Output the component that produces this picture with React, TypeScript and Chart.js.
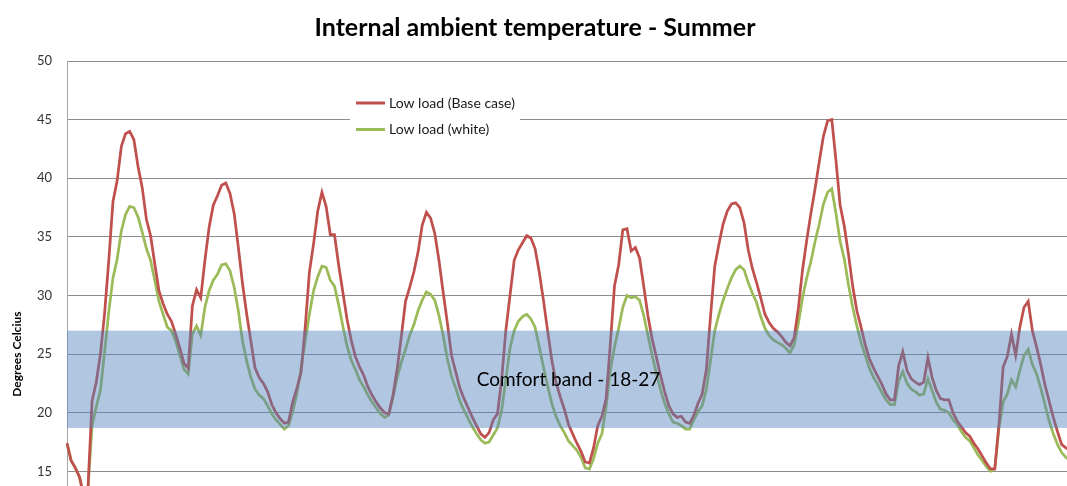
import React, { useEffect, useRef } from "react";
import { Chart, registerables } from "chart.js";

Chart.register(...registerables);

// Hourly time steps (categories)
const hours: string[] = Array.from({ length: 241 }, (_, i) => String(i));

// Series values (degrees Celsius)
const baseCase: number[] = [
  17.4, 15.9, 15.3, 14.5, 12.9, 13.4, 21.0, 22.6, 25.0, 28.5,
  33.0, 38.0, 39.8, 42.7, 43.8, 44.0, 43.3, 41.0, 39.2, 36.5,
  35.1, 32.7, 30.4, 29.3, 28.4, 27.8, 26.7, 25.5, 24.2, 23.8,
  29.1, 30.5, 29.8, 33.0, 35.8, 37.7, 38.5, 39.4, 39.6, 38.7,
  37.0, 34.1, 31.0, 28.4, 26.1, 23.8, 23.0, 22.5, 21.8, 20.7,
  20.0, 19.5, 19.1, 19.2, 20.9, 22.1, 23.4, 27.3, 32.0, 34.4,
  37.2, 38.8, 37.6, 35.2, 35.2, 32.6, 30.3, 28.0, 26.2, 24.8,
  23.9, 23.2, 22.2, 21.5, 20.9, 20.4, 20.0, 19.9, 21.5, 23.7,
  26.5, 29.5, 30.7, 32.0, 33.7, 36.0, 37.1, 36.6, 35.3, 33.0,
  30.3, 27.7, 24.9, 23.5, 22.1, 21.2, 20.4, 19.6, 18.9, 18.2,
  17.9, 18.3, 19.4, 19.9, 22.8, 27.0, 30.0, 33.0, 33.9, 34.5,
  35.1, 34.9, 34.0, 32.0, 29.6, 27.0, 24.5, 22.6, 21.4, 20.3,
  19.0, 18.2, 17.4, 16.7, 15.8, 15.7, 17.0, 18.9, 19.7, 21.2,
  25.8, 30.8, 32.6, 35.6, 35.7, 33.8, 34.1, 33.2, 30.8, 28.3,
  26.3, 24.8, 23.2, 21.8, 20.6, 19.9, 19.6, 19.7, 19.2, 19.1,
  19.8, 20.8, 21.6, 23.7, 28.3, 32.5, 34.4, 36.1, 37.2, 37.8,
  37.9, 37.5, 36.2, 33.9, 32.3, 31.1, 29.8, 28.4, 27.7, 27.2,
  26.9, 26.5, 26.0, 25.7, 26.4, 28.9, 32.2, 34.7, 37.0, 39.1,
  41.4, 43.6, 44.9, 45.0, 41.5, 37.7, 35.9, 33.5, 30.8, 28.7,
  27.3, 25.8, 24.6, 23.8, 23.1, 22.4, 21.6, 21.1, 21.1, 24.0,
  25.2, 23.6, 22.9, 22.6, 22.4, 22.6, 24.7, 23.0, 21.9, 21.2,
  21.1, 21.1, 20.0, 19.3, 18.8, 18.3, 18.0, 17.4, 16.9, 16.3,
  15.7, 15.2, 15.2, 19.0, 23.9, 24.8, 26.7, 24.9, 27.3, 29.0,
  29.5, 27.0, 25.6, 24.1, 22.4, 21.0, 19.6, 18.4, 17.3, 17.0,
  16.8,
];

const whiteRoof: number[] = [
  17.4, 15.9, 15.3, 14.5, 12.9, 13.4, 18.9, 20.5, 21.9, 25.2,
  28.6, 31.5, 33.1, 35.5, 36.9, 37.6, 37.5, 36.7, 35.4, 34.0,
  33.0, 31.3, 29.5, 28.4, 27.3, 27.0, 26.1, 24.9, 23.7, 23.3,
  26.7, 27.4, 26.6, 29.0, 30.4, 31.3, 31.8, 32.6, 32.7, 32.1,
  30.7, 28.7, 26.1, 24.4, 23.0, 22.0, 21.5, 21.2, 20.6, 19.9,
  19.4, 19.0, 18.6, 18.9, 20.1, 21.6, 23.8, 26.1, 28.4, 30.4,
  31.6, 32.5, 32.4, 31.3, 30.8, 29.2, 27.4, 25.7, 24.5, 23.7,
  22.8, 22.2, 21.5, 20.9, 20.4, 19.9, 19.6, 19.8, 21.3, 23.0,
  24.3, 25.4, 26.6, 27.5, 28.7, 29.6, 30.3, 30.1, 29.6, 28.3,
  26.6, 24.6, 23.1, 22.1, 21.0, 20.2, 19.5, 18.8, 18.2, 17.7,
  17.4, 17.5, 18.1, 18.7, 20.2, 22.8, 25.5, 27.0, 27.8, 28.2,
  28.4, 28.0, 27.3, 25.6, 23.9, 22.3, 20.8, 19.7, 18.9, 18.3,
  17.6, 17.2, 16.8, 16.2, 15.3, 15.2, 16.1, 17.4, 18.2, 20.5,
  23.6, 25.6, 27.2, 29.0, 30.0, 29.8, 29.9, 29.6, 28.3, 26.6,
  24.9, 23.4, 22.0, 20.8, 19.9, 19.2, 19.1, 18.9, 18.6, 18.6,
  19.4, 20.1, 20.6, 22.0, 24.5, 27.0, 28.4, 29.6, 30.6, 31.5,
  32.2, 32.5, 32.2, 31.1, 30.2, 29.4, 28.2, 27.2, 26.6, 26.2,
  26.0, 25.8, 25.5, 25.1, 25.8, 27.6, 29.8, 31.5, 32.9, 34.6,
  36.1, 37.8, 38.8, 39.1, 37.0, 34.6, 33.1, 30.9, 29.0, 27.4,
  26.0, 24.9, 23.8, 23.0, 22.4, 21.7, 21.1, 20.7, 20.7, 22.7,
  23.5, 22.5, 22.0, 21.8, 21.5, 21.6, 22.9, 21.9, 20.9, 20.3,
  20.2, 20.0, 19.4, 19.0, 18.4, 17.9, 17.6, 17.0, 16.4, 15.9,
  15.4, 15.0, 15.2, 18.7, 20.9, 21.6, 22.8, 22.2, 23.6, 24.9,
  25.4, 24.1, 23.3, 22.1, 20.7, 19.3, 18.2, 17.3, 16.6, 16.2,
  15.9,
];

const seriesLabels: string[] = ["Low load (Base case)", "Low load (white)"];
const seriesColors: string[] = ["#C0504D", "#9BBB59"];

// Comfort band (degrees Celsius)
const comfortLow = 18.7;
const comfortHigh = 27;
const comfortLabel = "Comfort band - 18-27";
const comfortLabelHour = 120;
const comfortLabelTemp = 22.8;

const yMin = 0;
const yMax = 50;
const yStep = 5;

const FONT = "Lato, 'Open Sans', sans-serif";

const comfortBandPlugin = {
  id: "comfortBand",
  afterDatasetsDraw(chart: any) {
    const { ctx, chartArea, scales } = chart;
    const y = scales.y;
    const x = scales.x;
    const top = y.getPixelForValue(comfortHigh);
    const bottom = y.getPixelForValue(comfortLow);
    ctx.save();
    ctx.fillStyle = "rgba(79,129,189,0.45)";
    ctx.fillRect(chartArea.left, top, chartArea.right - chartArea.left, bottom - top);
    ctx.fillStyle = "#000000";
    ctx.font = `19px ${FONT}`;
    ctx.textAlign = "center";
    ctx.textBaseline = "middle";
    ctx.fillText(comfortLabel, x.getPixelForValue(comfortLabelHour), y.getPixelForValue(comfortLabelTemp));
    ctx.restore();
  },
};

const insideLegendPlugin = {
  id: "insideLegend",
  afterDraw(chart: any) {
    const { ctx, chartArea } = chart;
    const left = chartArea.left + 283;
    const top = chartArea.top + 28;
    ctx.save();
    ctx.fillStyle = "#ffffff";
    ctx.fillRect(left, top, 170, 54);
    chart.data.datasets.forEach((ds: any, k: number) => {
      const yy = top + 14 + k * 26.5;
      ctx.strokeStyle = ds.borderColor;
      ctx.lineWidth = 3;
      ctx.beginPath();
      ctx.moveTo(left + 6, yy);
      ctx.lineTo(left + 35, yy);
      ctx.stroke();
      ctx.fillStyle = "#1a1a1a";
      ctx.font = `14px ${FONT}`;
      ctx.textAlign = "left";
      ctx.textBaseline = "middle";
      ctx.fillText(ds.label, left + 39, yy);
    });
    ctx.restore();
  },
};

export default function App() {
  const canvasRef = useRef<HTMLCanvasElement | null>(null);

  useEffect(() => {
    if (!canvasRef.current) return;
    const chart = new Chart(canvasRef.current, {
      type: "line",
      data: {
        labels: hours,
        datasets: [
          {
            label: seriesLabels[0],
            data: baseCase,
            borderColor: seriesColors[0],
            backgroundColor: seriesColors[0],
            borderWidth: 2.75,
            pointRadius: 0,
            tension: 0,
            fill: false,
          },
          {
            label: seriesLabels[1],
            data: whiteRoof,
            borderColor: seriesColors[1],
            backgroundColor: seriesColors[1],
            borderWidth: 2.75,
            pointRadius: 0,
            tension: 0,
            fill: false,
          },
        ],
      },
      options: {
        responsive: false,
        animation: false,
        layout: { padding: 0 },
        plugins: {
          legend: { display: false },
          tooltip: { enabled: false },
          title: {
            display: true,
            text: "Internal ambient temperature - Summer",
            color: "#000000",
            font: { family: FONT, size: 25, weight: "bold" },
            padding: { top: 13, bottom: 18 },
          },
        },
        scales: {
          x: {
            type: "category",
            display: false,
            offset: false,
          },
          y: {
            min: yMin,
            max: yMax,
            ticks: {
              stepSize: yStep,
              color: "#333333",
              font: { family: FONT, size: 13 },
              padding: 15,
            },
            grid: {
              color: "#8c8c8c",
              lineWidth: 1,
              drawTicks: false,
            },
            border: { color: "#a6a6a6", width: 1 },
            title: {
              display: true,
              text: "Degrees Celcius",
              color: "#000000",
              font: { family: FONT, size: 12, weight: "bold" },
              padding: { top: 10, bottom: 0 },
            },
            afterFit: (scale: any) => {
              scale.width = 67;
            },
          },
        },
      },
      plugins: [comfortBandPlugin, insideLegendPlugin],
    });
    return () => chart.destroy();
  }, []);

  return (
    <div
      style={{
        position: "fixed",
        left: 0,
        top: 0,
        width: 1067,
        height: 486,
        overflow: "hidden",
        background: "#ffffff",
      }}
    >
      <canvas
        ref={canvasRef}
        width={1070}
        height={670}
        style={{ display: "block", position: "absolute", left: 0, top: 0 }}
      />
    </div>
  );
}
